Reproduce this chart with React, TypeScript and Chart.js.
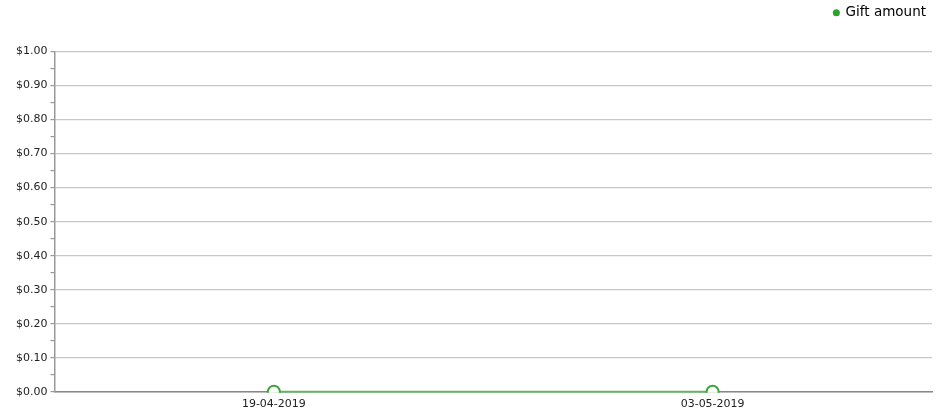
import React, { useEffect, useRef } from "react";
import { Chart, registerables } from "chart.js";

Chart.register(...registerables);

const categories = ["19-04-2019", "03-05-2019"];
const giftAmount = [0, 0];
const seriesName = "Gift amount";

const FONT = "'DejaVu Sans', Verdana, sans-serif";

const legendSpacing = {
  id: "legendSpacing",
  beforeInit(chart: any) {
    const orig = chart.legend.fit;
    chart.legend.fit = function fit() {
      orig.bind(chart.legend)();
      this.height += 22;
    };
  },
};

export default function App() {
  const ref = useRef<HTMLCanvasElement | null>(null);
  useEffect(() => {
    if (!ref.current) return;
    const chart = new Chart(ref.current, {
      type: "line",
      data: {
        labels: categories,
        datasets: [
          {
            label: seriesName,
            data: giftAmount,
            borderColor: "#5cb85c",
            backgroundColor: "#ffffff",
            borderWidth: 2,
            pointRadius: 6,
            pointBorderWidth: 2,
            pointBorderColor: "#3aa53a",
            pointBackgroundColor: "#ffffff",
            clip: { left: 0, top: 0, right: 0, bottom: 1 } as any,
          },
        ],
      },
      plugins: [legendSpacing],
      options: {
        responsive: true,
        maintainAspectRatio: false,
        animation: false,
        layout: { padding: { left: 13, right: 11, top: 0, bottom: 0 } },
        plugins: {
          legend: {
            position: "top",
            align: "end",
            labels: {
              usePointStyle: true,
              pointStyle: "circle",
              boxWidth: 5,
              boxHeight: 5,
              color: "#333",
              font: { family: FONT, size: 13.5 },
              padding: 6,
              generateLabels: () => [
                {
                  text: seriesName,
                  fillStyle: "#2ea12e",
                  strokeStyle: "#2ea12e",
                  lineWidth: 0,
                  pointStyle: "circle",
                  hidden: false,
                  datasetIndex: 0,
                } as any,
              ],
            },
          },
          tooltip: { enabled: false },
        },
        scales: {
          x: {
            offset: true,
            grid: { drawOnChartArea: false, drawTicks: false },
            border: { color: "#888", width: 1.5 },
            ticks: {
              color: "#222",
              padding: 6,
              font: { family: FONT, size: 11 },
              maxRotation: 0,
            },
          },
          y: {
            min: 0,
            max: 1,
            border: { color: "#999", width: 1.5 },
            grid: {
              color: (ctx: any) =>
                ctx.tick && Math.round(ctx.tick.value * 100) % 10 === 0 ? "#c8c8c8" : "rgba(0,0,0,0)",
              tickColor: "#999",
              tickLength: 4,
              lineWidth: 1.2,
            },
            ticks: {
              stepSize: 0.05,
              autoSkip: false,
              color: "#222",
              padding: 3,
              font: { family: FONT, size: 11 },
              callback: (v: any) => {
                const n = Number(v);
                return Math.round(n * 100) % 10 === 0 ? "$" + n.toFixed(2) : "";
              },
            },
          },
        },
      },
    });
    return () => chart.destroy();
  }, []);
  return (
    <div style={{ position: "fixed", left: 0, top: 0, width: 943, height: 417, background: "#fff" }}>
      <canvas ref={ref} />
    </div>
  );
}
